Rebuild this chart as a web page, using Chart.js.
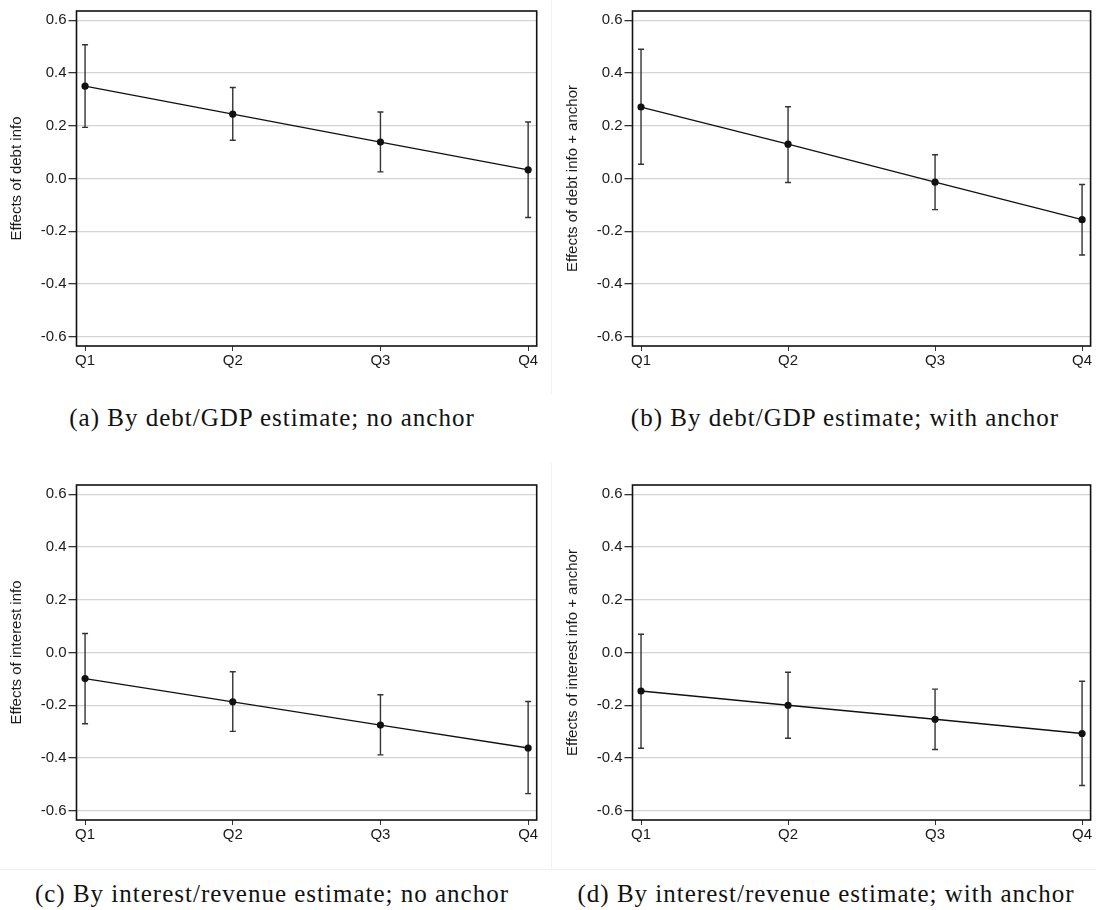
<!DOCTYPE html>
<html>
<head>
<meta charset="utf-8">
<script src="https://cdn.jsdelivr.net/npm/chart.js@4"></script>
<style>
  body { margin: 0; background: #fff; }
  #page { position: relative; width: 1096px; height: 910px; overflow: hidden; }
  canvas { position: absolute; }
  .cap { position: absolute; width: 548px; text-align: center; font-family: 'Liberation Serif', 'Times New Roman', serif;
         font-size: 25px; letter-spacing: 1px; color: #111; white-space: nowrap; }
  .rule { position: absolute; background: #eef2f2; }
</style>
</head>
<body>
<div id="page">
  <div class="rule" style="left:551px; top:0; width:1px; height:395px;"></div>
  <div class="rule" style="left:551px; top:463px; width:1px; height:406px;"></div>
  <div class="rule" style="left:0; top:869px; width:1096px; height:1px;"></div>
  <canvas id="ca" width="548" height="380" style="left:0; top:0;"></canvas>
  <canvas id="cb" width="540" height="380" style="left:556px; top:0;"></canvas>
  <canvas id="cc" width="548" height="380" style="left:0; top:474px;"></canvas>
  <canvas id="cd" width="540" height="380" style="left:556px; top:474px;"></canvas>
  <div class="cap" style="left:-2px; top:404px;">(a) By debt/GDP estimate; no anchor</div>
  <div class="cap" style="left:571px; top:404px;">(b) By debt/GDP estimate; with anchor</div>
  <div class="cap" style="left:-2px; top:880px;">(c) By interest/revenue estimate; no anchor</div>
  <div class="cap" style="left:552px; top:880px;">(d) By interest/revenue estimate; with anchor</div>
</div>
<script>
const quarters = ['Q1', 'Q2', 'Q3', 'Q4'];
const yTicks = [-0.6, -0.4, -0.2, 0, 0.2, 0.4, 0.6];

// (a) debt info, no anchor
const debtEst = [0.350, 0.244, 0.138, 0.033];
const debtLo  = [0.194, 0.145, 0.025, -0.148];
const debtHi  = [0.507, 0.345, 0.252, 0.214];

// (b) debt info + anchor
const debtAnchorEst = [0.271, 0.130, -0.014, -0.156];
const debtAnchorLo  = [0.054, -0.015, -0.118, -0.290];
const debtAnchorHi  = [0.490, 0.272, 0.090, -0.023];

// (c) interest info, no anchor
const interestEst = [-0.099, -0.187, -0.275, -0.362];
const interestLo  = [-0.270, -0.299, -0.388, -0.535];
const interestHi  = [0.072, -0.073, -0.160, -0.186];

// (d) interest info + anchor
const interestAnchorEst = [-0.146, -0.200, -0.253, -0.307];
const interestAnchorLo  = [-0.363, -0.325, -0.368, -0.504];
const interestAnchorHi  = [0.069, -0.075, -0.139, -0.109];

Chart.defaults.font.family = "'Liberation Sans', Arial, sans-serif";
Chart.defaults.font.size = 15;
Chart.defaults.color = '#1a1a1a';

// black box round the plot region, like Stata's plotregion outline
const frame = {
  id: 'frame',
  afterDraw(chart) {
    const { ctx, chartArea: a } = chart;
    ctx.save();
    ctx.strokeStyle = '#111';
    ctx.lineWidth = 1.6;
    ctx.strokeRect(a.left, a.top, a.right - a.left, a.bottom - a.top);
    ctx.restore();
  }
};

function makeChart(id, yTitle, est, lo, hi, padRight) {
  const bars = [];
  quarters.forEach((q, i) => {
    bars.push({ x: i, y: lo[i] }, { x: i, y: hi[i] }, { x: i, y: null });
  });
  const line = quarters.map((q, i) => ({ x: i, y: est[i] }));

  return new Chart(document.getElementById(id), {
    type: 'scatter',
    data: {
      datasets: [
        {
          data: line, showLine: true, order: 1,
          borderColor: '#111', borderWidth: 1.3,
          pointRadius: 3.6, pointBackgroundColor: '#111', pointBorderWidth: 0
        },
        {
          data: bars, showLine: true, spanGaps: false, order: 2,
          borderColor: '#333', borderWidth: 1.4,
          pointStyle: 'line', pointRadius: 3, pointBorderColor: '#333', pointBorderWidth: 1.4
        }
      ]
    },
    options: {
      responsive: false,
      animation: false,
      events: [],
      layout: { padding: { top: 5.3, right: padRight, left: 0, bottom: 0 } },
      plugins: { legend: { display: false }, tooltip: { enabled: false } },
      scales: {
        x: {
          type: 'linear',
          min: -0.058, max: 3.058,
          afterBuildTicks: s => { s.ticks = quarters.map((q, i) => ({ value: i })); },
          afterFit: s => { s.height = 34; },
          ticks: { callback: v => quarters[v], padding: 1, maxRotation: 0, autoSkip: false },
          grid: { drawOnChartArea: false, drawTicks: true, tickLength: 5, tickColor: '#333' },
          border: { display: false }
        },
        y: {
          type: 'linear',
          min: -0.635, max: 0.635,
          afterBuildTicks: s => { s.ticks = yTicks.map(v => ({ value: v })); },
          afterFit: s => { s.width = 76.5; },
          ticks: { callback: v => v.toFixed(1), padding: 2 },
          grid: { color: '#d4d4d4', lineWidth: 1.3, tickLength: 8, tickColor: '#333' },
          border: { display: false },
          title: { display: true, text: yTitle, padding: { top: 8, bottom: 0 } }
        }
      }
    },
    plugins: [frame]
  });
}

makeChart('ca', 'Effects of debt info', debtEst, debtLo, debtHi, 11.3);
makeChart('cb', 'Effects of debt info + anchor', debtAnchorEst, debtAnchorLo, debtAnchorHi, 3.3);
makeChart('cc', 'Effects of interest info', interestEst, interestLo, interestHi, 11.3);
makeChart('cd', 'Effects of interest info + anchor', interestAnchorEst, interestAnchorLo, interestAnchorHi, 3.3);
</script>
</body>
</html>
